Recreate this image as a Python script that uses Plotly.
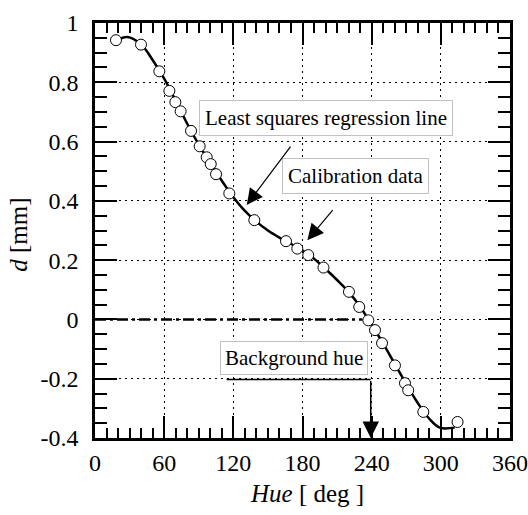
import plotly.graph_objects as go

# Calibration data (hue in deg, d in mm)
cal_hue = [18.2, 39.9, 55.8, 64.5, 69.7, 74.3, 83.3, 90.8, 96.9, 100.4, 105.0, 116.5,
           138.2, 165.7, 175.5, 185.0, 198.2, 220.3, 229.2, 237.1, 242.9, 249.0,
           260.2, 268.9, 271.7, 284.8, 314.5]
cal_d = [0.942, 0.927, 0.837, 0.771, 0.733, 0.702, 0.636, 0.584, 0.547, 0.524, 0.490, 0.425,
         0.335, 0.264, 0.239, 0.217, 0.175, 0.093, 0.042, -0.003, -0.036, -0.080,
         -0.155, -0.215, -0.239, -0.312, -0.346]

# Least squares regression line
reg_hue = [18, 28, 40, 50, 60, 70, 80, 90, 100, 110, 120, 130, 140, 150, 160, 170,
           180, 190, 200, 210, 220, 230, 240, 250, 260, 270, 280, 290, 299, 312]
reg_d = [0.940, 0.953, 0.928, 0.875, 0.812, 0.738, 0.660, 0.590, 0.528, 0.468, 0.412,
         0.366, 0.330, 0.300, 0.276, 0.255, 0.232, 0.205, 0.170, 0.133, 0.093, 0.043,
         -0.018, -0.082, -0.150, -0.218, -0.282, -0.335, -0.365, -0.365]

x_ticks = [0, 60, 120, 180, 240, 300, 360]
y_ticks = [-0.4, -0.2, 0, 0.2, 0.4, 0.6, 0.8, 1]
background_hue = 239.2
zero_line_end = 232

SERIF = "'Liberation Serif', 'Times New Roman', Times, serif"

fig = go.Figure()
fig.add_trace(go.Scatter(x=reg_hue, y=reg_d, mode="lines", line=dict(color="black", width=2.5, shape="spline"),
                         showlegend=False, hoverinfo="skip"))
fig.add_trace(go.Scatter(x=cal_hue, y=cal_d, mode="markers",
                         marker=dict(size=11, color="white", line=dict(color="black", width=1)),
                         showlegend=False))

axis_common = dict(
    showline=True, linecolor="black", linewidth=2.5, mirror="allticks",
    ticks="inside", ticklen=22, tickwidth=2, tickcolor="black",
    showgrid=True, gridcolor="black", gridwidth=1, griddash="2px,4px",
    zeroline=False, automargin=False,
    tickfont=dict(family=SERIF, size=24, color="black"),
)

fig.update_xaxes(range=[0, 360], tickvals=x_ticks, ticktext=[str(v) for v in x_ticks],
                 minor=dict(dtick=10, tick0=0, ticks="inside", ticklen=10, tickwidth=2, tickcolor="black", showgrid=False),
                 ticklabelstandoff=1, **axis_common)
fig.update_yaxes(range=[-0.4, 1], tickvals=y_ticks, ticktext=[("%g" % v) for v in y_ticks],
                 minor=dict(dtick=0.05, tick0=0, ticks="inside", ticklen=12, tickwidth=2, tickcolor="black", showgrid=False),
                 ticklabelstandoff=9, **axis_common)

shapes = [
    dict(type="line", xref="x", yref="y", x0=0, y0=0, x1=zero_line_end, y1=0,
         line=dict(color="black", width=2.5, dash="11px,4px,3px,4px")),
    dict(type="line", xref="x", yref="y", x0=114.2, y0=-0.203, x1=background_hue, y1=-0.203,
         line=dict(color="black", width=1.5)),
]

ann_font = dict(family=SERIF, size=21, color="black")
annotations = [
    dict(x=200.1, y=0.680, xref="x", yref="y", text="Least squares regression line", showarrow=False,
         font=ann_font, bgcolor="white", bordercolor="#c0c0c0", borderwidth=1, borderpad=5),
    dict(x=225.8, y=0.484, xref="x", yref="y", text="Calibration data", showarrow=False,
         font=ann_font, bgcolor="white", bordercolor="#c0c0c0", borderwidth=1, borderpad=5),
    dict(x=172.8, y=-0.129, xref="x", yref="y", text="Background hue", showarrow=False,
         font=ann_font, bgcolor="white", bordercolor="#c0c0c0", borderwidth=1, borderpad=4),
    # arrows
    dict(x=131.6, y=0.386, ax=170.6, ay=0.588, xref="x", yref="y", axref="x", ayref="y", text="",
         showarrow=True, arrowhead=2, arrowsize=2.7, arrowwidth=1.2, arrowcolor="black"),
    dict(x=184.2, y=0.267, ax=207.3, ay=0.374, xref="x", yref="y", axref="x", ayref="y", text="",
         showarrow=True, arrowhead=2, arrowsize=2.7, arrowwidth=1.2, arrowcolor="black"),
    dict(x=background_hue, y=-0.4, ax=background_hue, ay=-0.203, xref="x", yref="y", axref="x", ayref="y",
         text="", showarrow=True, arrowhead=2, arrowsize=2.2, arrowwidth=1.5, arrowcolor="black"),
    # axis titles
    dict(x=0.51, y=-0.134, xref="paper", yref="paper", showarrow=False, xanchor="center", yanchor="middle",
         text="<i>Hue</i> [ deg ]", font=dict(family=SERIF, size=25, color="black")),
    dict(x=-0.183, y=0.49, xref="paper", yref="paper", showarrow=False, xanchor="center", yanchor="middle",
         textangle=-90, text="<i>d</i> [mm]", font=dict(family=SERIF, size=25, color="black")),
]

fig.update_layout(
    width=528, height=515,
    margin=dict(l=95, r=18, t=23, b=77),
    plot_bgcolor="white", paper_bgcolor="white",
    font=dict(family=SERIF, color="black"),
    shapes=shapes, annotations=annotations,
    showlegend=False,
)

fig.write_html("out.html", config={"displayModeBar": False},
               post_script="document.body.style.margin='0';document.body.style.padding='0';"
                           "document.documentElement.style.overflow='hidden';")
